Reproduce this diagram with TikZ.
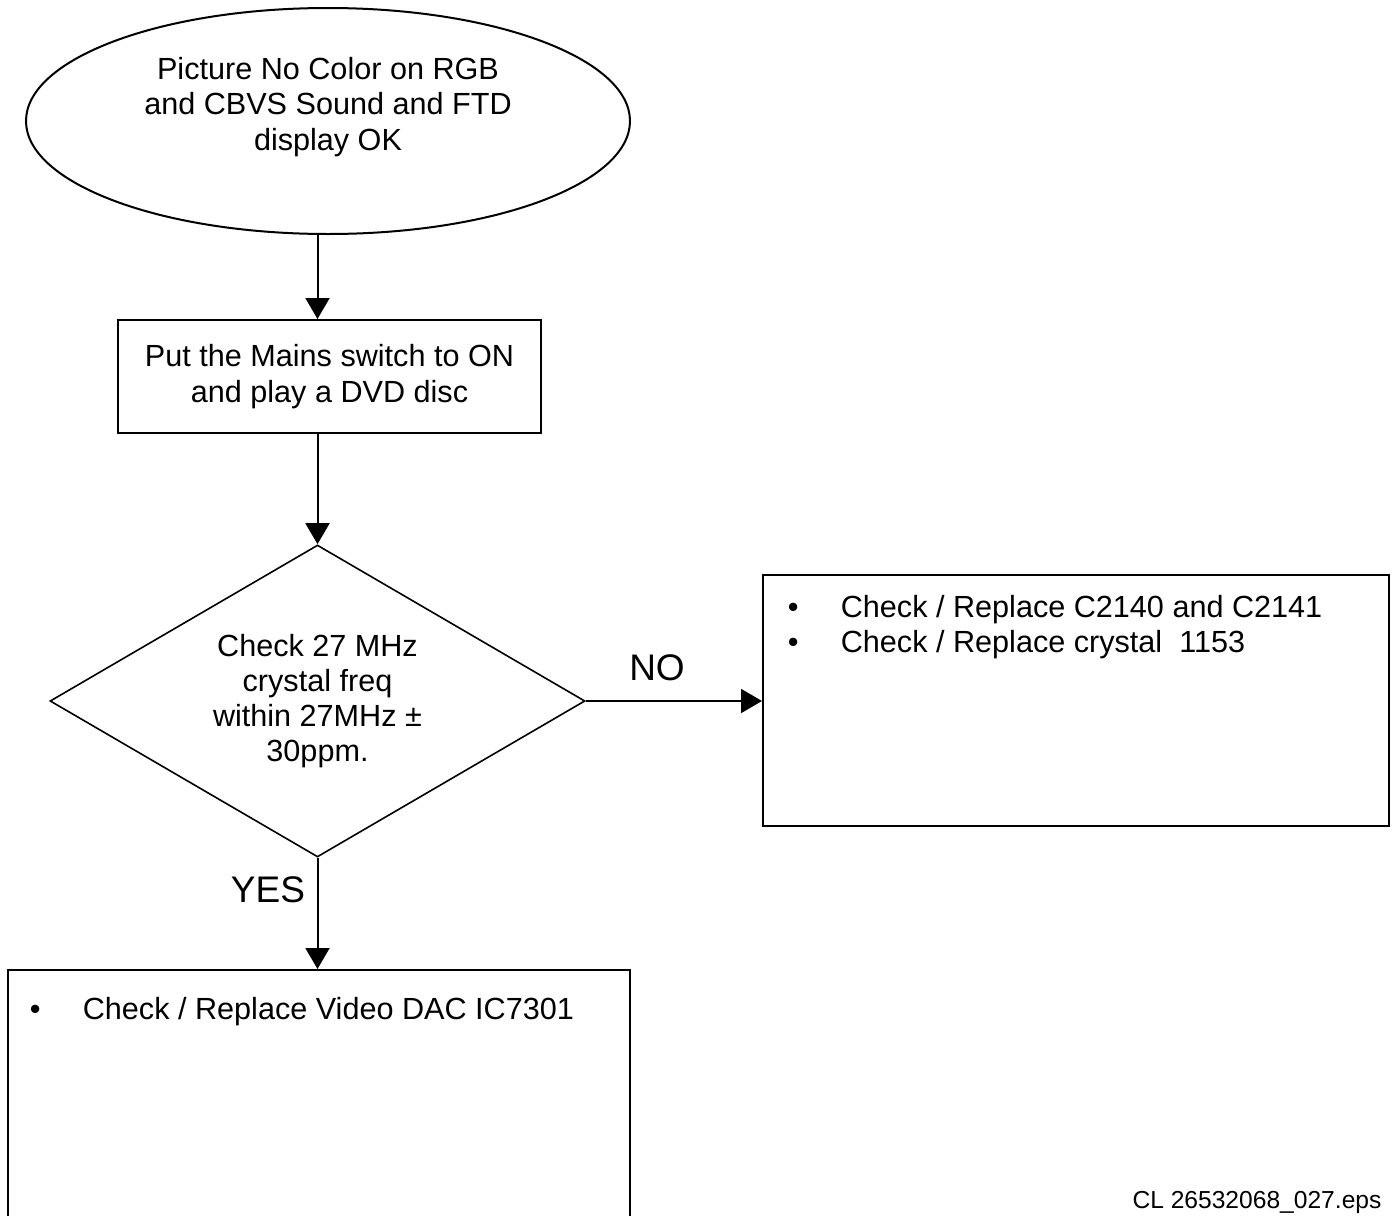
\documentclass[tikz,border=0pt]{standalone}
\usepackage{fontspec}
\setmainfont{Liberation Sans}
\usetikzlibrary{shapes.geometric,arrows.meta,calc}

\newcommand\itm{\makebox[26.5pt][l]{\textbullet}}

\begin{document}
\begin{tikzpicture}[x=0.5pt,y=-0.5pt,
  every node/.style={font=\fontsize{15.3}{17.6}\selectfont, inner sep=0pt},
  startbox/.style={draw, line width=1pt, ellipse, minimum width=302pt, minimum height=113pt},
  stepbox/.style={draw, line width=1pt, rectangle, minimum width=211.5pt, minimum height=56.5pt, align=center},
  testbox/.style={draw, line width=0.8pt, diamond, aspect=1.7, minimum width=267.5pt, minimum height=156pt, align=center},
  fixbox/.style={draw, line width=1pt, rectangle},
  items/.style={anchor=north west, align=left},
  answer/.style={font=\fontsize{18.5}{20}\selectfont},
  flow/.style={line width=1pt, -{Triangle[length=10.5pt,width=12pt]}}
]
  \useasboundingbox (0,0) rectangle (1394,1216);
  \clip (0,0) rectangle (1394,1216);

  \node[startbox] (start) at (328,121) {};
  \node[align=center] (starttxt) at ($(start.center)+(0,-14)$)
    {Picture No Color on RGB\\and CBVS Sound and FTD\\display OK};

  \node[stepbox] (mains) at (329.5,376.5) {Put the Mains switch to ON\\and play a DVD disc};

  \node[testbox] (xtal) at (317.5,701) {Check 27 MHz\\crystal freq\\within 27MHz ±\\30ppm.};

  \node[fixbox, minimum width=313pt, minimum height=125.5pt] (nofix) at (1076,700.5) {};
  \node[items] (nofixtxt) at ($(nofix.north west)+(25.5,21)$)
    {\itm Check / Replace C2140 and C2141\\\itm Check / Replace crystal\ \ 1153};

  \node[fixbox, minimum width=311pt, minimum height=130pt] (yesfix) at (319,1100) {};
  \node[items] (yesfixtxt) at ($(yesfix.north west)+(22.5,28)$)
    {\itm Check / Replace Video DAC IC7301};

  \draw[flow] (start.south -| xtal.north) -- (mains.north -| xtal.north);
  \draw[flow] (mains.south -| xtal.north) -- (xtal.north);
  \draw[flow] (xtal.east) -- (nofix.west |- xtal.east);
  \draw[flow] (xtal.south) -- (yesfix.north -| xtal.south);

  \node[answer] (no) at (657,668) {NO};
  \node[answer] (yes) at (268,890) {YES};

  \node[font=\fontsize{12.3}{14}\selectfont, anchor=base] (tag) at (1257,1208) {CL 26532068\_027.eps};
\end{tikzpicture}
\end{document}
